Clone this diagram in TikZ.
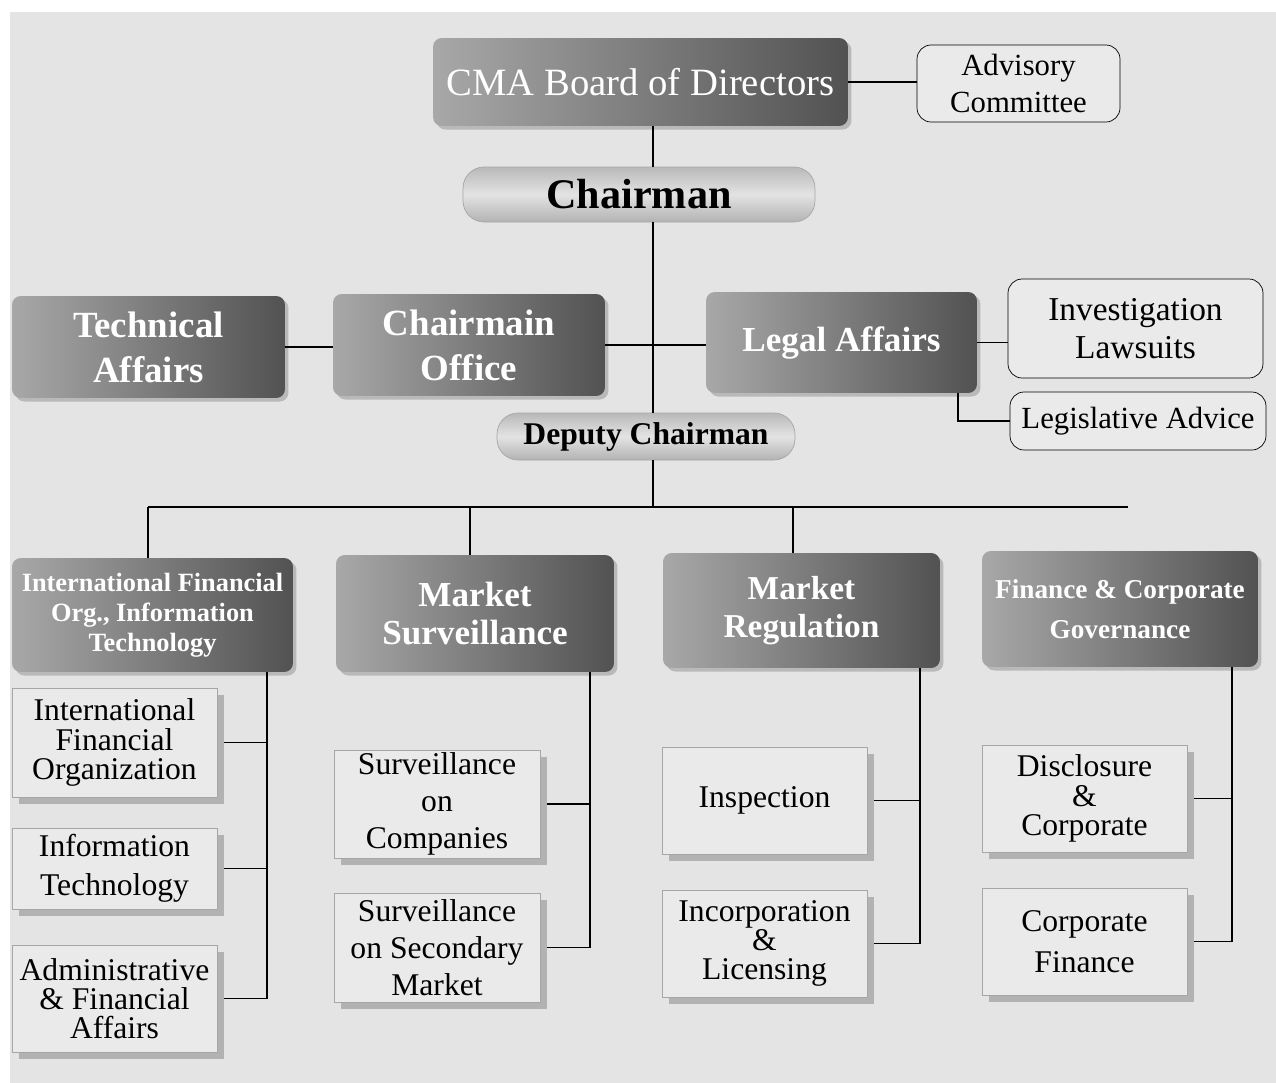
\documentclass[tikz,border=0pt]{standalone}
\usepackage{fontspec}
\setmainfont{Liberation Serif}
\usetikzlibrary{shadows}

\definecolor{bggray}{RGB}{228,228,228}
\definecolor{boxlight}{RGB}{168,168,168}
\definecolor{boxdark}{RGB}{82,82,82}
\definecolor{subfill}{RGB}{234,234,234}

\begin{document}
\begin{tikzpicture}[x=0.02cm, y=-0.02cm,
    darkbox/.style={rounded corners=5pt, left color=boxlight, right color=boxdark, text=white,
        align=center, inner sep=0pt, drop shadow={shadow xshift=2pt, shadow yshift=-2pt, fill=gray!55, opacity=1}},
    pill/.style={rounded corners=12pt, top color=gray!55, bottom color=gray!60, middle color=gray!22,
        draw=gray!70, align=center, inner sep=0pt},
    outbox/.style={draw, rounded corners=8pt, fill=subfill, align=center, inner sep=0pt},
    subbox/.style={draw=gray!70, fill=subfill, align=center, inner sep=0pt,
        drop shadow={shadow xshift=4pt, shadow yshift=-4pt, fill=gray!60, opacity=1}}]
            \useasboundingbox (0,0) rectangle (1276,1083);
            \fill[bggray] (10,12) rectangle (1276,1083);

            % top of the chart
            \node[darkbox, minimum width=8.3cm, minimum height=1.76cm, font=\fontsize{22}{26}\selectfont] (board) at (640.5,82) {CMA Board of Directors};
            \node[outbox, minimum width=4.06cm, minimum height=1.54cm, font=\fontsize{17.5}{21.5}\selectfont] (adv) at (1018.5,83.5) {Advisory\\Committee};
            \node[pill, minimum width=7.04cm, minimum height=1.1cm, font=\fontsize{24}{28}\selectfont\bfseries] (chair) at (639,194.5) {Chairman};

            \node[darkbox, minimum width=5.46cm, minimum height=2.04cm, font=\fontsize{21}{25.5}\selectfont\bfseries] (tech) at (148.5,347) {Technical\\Affairs};
            \node[darkbox, minimum width=5.44cm, minimum height=2.04cm, font=\fontsize{21}{25.5}\selectfont\bfseries] (office) at (469,345) {Chairmain\\Office};
            \node[darkbox, minimum width=5.42cm, minimum height=2.02cm, font=\fontsize{20}{24}\selectfont\bfseries] (legal) at (841.5,342.5) {Legal Affairs};
            \node[outbox, minimum width=5.1cm, minimum height=1.98cm, font=\fontsize{19}{21.5}\selectfont] (inv) at (1135.5,328.5) {Investigation\\Lawsuits};
            \node[outbox, minimum width=5.12cm, minimum height=1.16cm, font=\fontsize{17.5}{21}\selectfont] (legis) at (1138,421) {Legislative Advice};
            \node[pill, minimum width=5.96cm, minimum height=0.94cm, font=\fontsize{18}{22}\selectfont\bfseries] (deputy) at (646,436.5) {Deputy Chairman};

            % departments
            \node[darkbox, minimum width=5.62cm, minimum height=2.28cm, font=\fontsize{15}{17}\selectfont\bfseries] (ifo) at (152.5,615) {International Financial\\Org., Information\\Technology};
            \node[darkbox, minimum width=5.56cm, minimum height=2.34cm, font=\fontsize{20}{22}\selectfont\bfseries] (ms) at (475,613.5) {Market\\Surveillance};
            \node[darkbox, minimum width=5.54cm, minimum height=2.3cm, font=\fontsize{19}{22}\selectfont\bfseries] (mr) at (801.5,610.5) {Market\\Regulation};
            \node[darkbox, minimum width=5.52cm, minimum height=2.32cm, font=\fontsize{15.5}{23}\selectfont\bfseries] (fcg) at (1120,609) {Finance \& Corporate\\Governance};

            % sections
            \node[subbox, minimum width=4.1cm, minimum height=2.18cm, font=\fontsize{18}{17}\selectfont] (iforg) at (114.5,742.5) {International\\Financial\\Organization};
            \node[subbox, minimum width=4.1cm, minimum height=1.62cm, font=\fontsize{18}{22}\selectfont] (it) at (114.5,868.5) {Information\\Technology};
            \node[subbox, minimum width=4.1cm, minimum height=2.14cm, font=\fontsize{18}{16.5}\selectfont] (admin) at (114.5,998.5) {Administrative\\\& Financial\\Affairs};
            \node[subbox, minimum width=4.12cm, minimum height=2.16cm, font=\fontsize{18}{21}\selectfont] (soc) at (437,804) {Surveillance\\on\\Companies};
            \node[subbox, minimum width=4.12cm, minimum height=2.18cm, font=\fontsize{18}{21}\selectfont] (ssm) at (437,947.5) {Surveillance\\on Secondary\\Market};
            \node[subbox, minimum width=4.1cm, minimum height=2.14cm, font=\fontsize{18}{22}\selectfont] (insp) at (764.5,800.5) {Inspection};
            \node[subbox, minimum width=4.1cm, minimum height=2.14cm, font=\fontsize{18}{16.5}\selectfont] (inc) at (764.5,943.5) {Incorporation\\\&\\Licensing};
            \node[subbox, minimum width=4.1cm, minimum height=2.14cm, font=\fontsize{18}{17}\selectfont] (disc) at (1084.5,798.5) {Disclosure\\\&\\Corporate};
            \node[subbox, minimum width=4.1cm, minimum height=2.14cm, font=\fontsize{18}{23}\selectfont] (cf) at (1084.5,941.5) {Corporate\\Finance};

            % connector points
            \coordinate (spine) at (653,0);
            \coordinate (bus) at (653,507);
            \coordinate (busw) at (148,507);
            \coordinate (buse) at (1128,507);
            \coordinate (b2) at (470,507);
            \coordinate (b3) at (793,507);
            \coordinate (lx) at (958,0);
            \coordinate (t1) at (267,0);
            \coordinate (t2) at (590,0);
            \coordinate (t3) at (920,0);
            \coordinate (t4) at (1232,0);

            \draw[black, line width=0.6pt] (board.east) -- (board.east -| adv.west);
            \draw[black, line width=0.6pt] (board.south -| spine) -- (chair.north -| spine);
            \draw[black, line width=0.6pt] (chair.south -| spine) -- (deputy.north -| spine);
            \draw[black, line width=0.6pt] (tech.east) -- (tech.east -| office.west);
            \draw[black, line width=0.6pt] (office.east) -- (office.east -| legal.west);
            \draw[black, line width=0.6pt] (legal.east) -- (legal.east -| inv.west);
            \draw[black, line width=0.6pt] (legal.south -| lx) |- (legis.west);
            \draw[black, line width=0.6pt] (deputy.south -| spine) -- (bus);
            \draw[black, line width=0.6pt] (busw) -- (buse);
            \draw[black, line width=0.6pt] (busw) -- (busw |- ifo.north);
            \draw[black, line width=0.6pt] (b2) -- (b2 |- ms.north);
            \draw[black, line width=0.6pt] (b3) -- (b3 |- mr.north);

            \draw[black, line width=0.6pt] (ifo.south -| t1) |- ([xshift=4pt]admin.east);
            \draw[black, line width=0.6pt] ([xshift=4pt]iforg.east) -- (iforg.east -| t1);
            \draw[black, line width=0.6pt] ([xshift=4pt]it.east) -- (it.east -| t1);
            \draw[black, line width=0.6pt] (ms.south -| t2) |- ([xshift=4pt]ssm.east);
            \draw[black, line width=0.6pt] ([xshift=4pt]soc.east) -- (soc.east -| t2);
            \draw[black, line width=0.6pt] (mr.south -| t3) |- ([xshift=4pt]inc.east);
            \draw[black, line width=0.6pt] ([xshift=4pt]insp.east) -- (insp.east -| t3);
            \draw[black, line width=0.6pt] (fcg.south -| t4) |- ([xshift=4pt]cf.east);
            \draw[black, line width=0.6pt] ([xshift=4pt]disc.east) -- (disc.east -| t4);
        \end{tikzpicture}
\end{document}
